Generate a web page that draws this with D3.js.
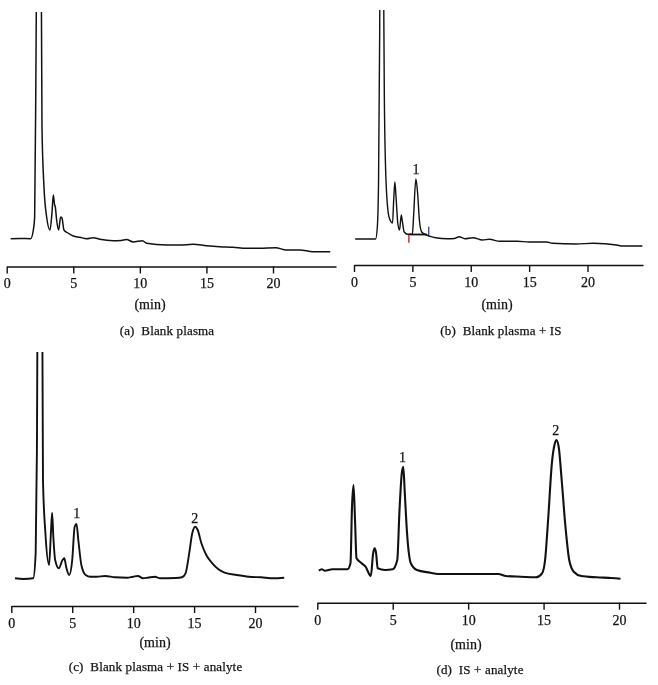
<!DOCTYPE html>
<html><head><meta charset="utf-8">
<script src="https://cdn.jsdelivr.net/npm/d3@7"></script>
<style>
body{margin:0;background:#fff}
svg{will-change:transform}
text{font-family:"Liberation Serif","DejaVu Serif",serif;fill:#111;stroke:#111;stroke-width:0.25px;opacity:0.99}
</style>
</head><body><svg id="chart" width="658" height="685"></svg>
<script>
// ---- data (time in min, detector signal in arbitrary units) ----
const tickValues = [0, 5, 10, 15, 20];
const axisTitle = "(min)";
const captions = ["(a)\u00a0 Blank plasma", "(b)\u00a0 Blank plasma + IS", "(c)\u00a0 Blank plasma + IS + analyte", "(d)\u00a0 IS + analyte"];

const traceA = [[0.3,21.3],[1.0,21.5],[1.8,21.3],[2.0,30],[2.1,43],[2.2,200],[2.3,400],[2.55,400],[2.65,133],[2.8,73],[3.0,43],[3.25,30],[3.4,47],[3.5,65],[3.6,55],[3.65,53],[3.75,40],[3.9,30],[4.05,43],[4.15,42],[4.3,30],[4.6,27],[5.0,24],[5.5,22.7],[6.0,21.3],[6.5,22.3],[7.0,20.7],[8.0,19.3],[8.6,19.6],[9.0,20.5],[9.5,18],[10.2,19.3],[10.5,16.7],[12.0,15],[13.0,15],[14.0,15.7],[15.0,14.3],[16.0,13.3],[17.0,12.7],[18.0,11.7],[19.0,11.7],[20.2,12.3],[21.0,10],[22.0,10],[23.0,8.3],[24.3,8.3]];

const traceB = [[0.1,21],[1.85,21],[2.0,33.3],[2.1,77],[2.2,227],[2.25,400],[2.45,400],[2.6,160],[2.75,77],[3.0,43],[3.3,37],[3.4,60],[3.5,78],[3.6,63],[3.75,37],[3.9,30],[4.05,45],[4.15,38],[4.3,28],[4.6,25.7],[5.0,25.7],[5.1,43],[5.3,81],[5.45,66.7],[5.6,40],[5.8,28],[6.2,25],[6.6,23.3],[7.0,22.3],[8.0,21.3],[8.6,21.5],[9.0,23.3],[9.5,21.3],[10.2,22.3],[11.0,20],[11.6,20.7],[12.5,18.7],[14.0,18.7],[15.0,18],[16.5,18],[17.0,16.7],[19.0,16],[20.5,16.7],[22.5,15],[23.0,14],[24.7,14]];

const traceC = [[0.3,21.7],[1.0,21],[1.8,21.7],[2.0,46.7],[2.1,146.7],[2.2,400],[2.5,400],[2.6,120],[2.8,66.7],[3.1,35],[3.25,66.7],[3.35,87.3],[3.45,63.3],[3.6,40],[3.9,31.7],[4.2,40],[4.35,41.7],[4.5,33.3],[4.75,25],[5.0,40],[5.2,73.3],[5.35,76],[5.5,60],[5.75,35],[6.1,25],[6.5,23.3],[7.0,23.3],[7.7,24],[8.5,22.7],[9.5,22.3],[10.0,23.3],[10.4,24],[10.8,21.7],[11.2,22.3],[11.8,23.3],[12.2,21.7],[13.5,22],[14.0,22.7],[14.3,26.7],[14.6,46.7],[14.85,66.7],[15.1,73.3],[15.3,70],[15.6,56.7],[16.0,45],[16.5,36.7],[17.0,30.7],[17.5,27.3],[18.5,25],[19.5,23.3],[20.5,22.7],[21.5,21.7],[22.4,22.3]];

const traceD = [[0.1,29.3],[0.3,30.7],[0.5,29.3],[1.0,30.7],[2.0,30.7],[2.2,36.7],[2.3,93.3],[2.4,115],[2.5,80],[2.6,41.7],[2.9,37.3],[3.2,33.3],[3.55,24],[3.7,46.7],[3.8,51.7],[3.9,46.7],[4.0,31.7],[4.5,30],[5.0,30.7],[5.3,40],[5.45,90],[5.6,126.7],[5.7,133.3],[5.8,106.7],[5.95,66.7],[6.2,36.7],[6.6,30],[7.5,27.3],[8.0,26],[10.0,26],[12.0,26],[12.5,24],[13.5,23.3],[14.5,22.7],[14.9,26.7],[15.1,40],[15.3,80],[15.55,136.7],[15.75,156.7],[15.85,160],[16.0,153.3],[16.2,120],[16.45,73.3],[16.7,40],[17.0,28.3],[17.5,24],[18.5,22.7],[19.5,22],[20.1,21.3]];

const peakLabelsB = [["1", 5.3, 91]];
const peakLabelsC = [["1", 5.38, 87.3], ["2", 15.05, 82.3]];
const peakLabelsD = [["1", 5.65, 143.3], ["2", 15.8, 170]];

// integration markers in panel (b): [time, v from, v to]
const markerRed = [4.7, 17.3, 25];
const markerBlue = [6.4, 25, 33.3];
const integrationBaseline = [[4.75, 25.5], [6.25, 25.5]];

// ---- layout ----
const panels = [
  {trace: traceA, labels: [], x0: 6.7, x20: 273, xEnd: 336, axisY: 266.5, yR: [260, 10], clipTop: 12, sw: 1.5,
   minX: 150, minY: 309, capX: 167, capY: 335, cap: captions[0]},
  {trace: traceB, labels: peakLabelsB, x0: 354, x20: 587.5, xEnd: 643, axisY: 265, yR: [260, 10], clipTop: 10, sw: 1.4,
   minX: 497, minY: 309, capX: 501, capY: 335, cap: captions[1]},
  {trace: traceC, labels: peakLabelsC, x0: 11.3, x20: 255, xEnd: 298, axisY: 606, yR: [600, 350], clipTop: 352, sw: 1.9,
   minX: 155, minY: 647, capX: 155.5, capY: 671, cap: captions[2]},
  {trace: traceD, labels: peakLabelsD, x0: 317.3, x20: 619, xEnd: 646, axisY: 602.7, yR: [600, 350], clipTop: 0, sw: 2.1,
   minX: 466, minY: 649, capX: 480, capY: 674, cap: captions[3]}
];

const svg = d3.select("#chart");
svg.append("rect").attr("width", 658).attr("height", 685).attr("fill", "#fff");

panels.forEach((p, i) => {
  const x = d3.scaleLinear().domain([0, 20]).range([p.x0, p.x20]);
  const y = d3.scaleLinear().domain([0, 250]).range(p.yR);
  const xAxisScale = x.copy().domain([0, x.invert(p.xEnd)]).range([p.x0, p.xEnd]);

  svg.append("clipPath").attr("id", "clip" + i)
    .append("rect").attr("x", 0).attr("y", p.clipTop).attr("width", 658).attr("height", p.axisY - p.clipTop);

  const line = d3.line().x(d => x(d[0])).y(d => y(d[1])).curve(d3.curveMonotoneX);
  svg.append("path").datum(p.trace)
    .attr("clip-path", `url(#clip${i})`)
    .attr("d", line).attr("fill", "none").attr("stroke", "#111")
    .attr("stroke-width", p.sw).attr("stroke-linejoin", "round");

  if (i === 1) {
    svg.append("path").datum(integrationBaseline)
      .attr("d", d3.line().x(d => x(d[0])).y(d => y(d[1])))
      .attr("stroke", "#111").attr("stroke-width", 1.8).attr("fill", "none");
    svg.append("line").attr("x1", x(markerRed[0])).attr("x2", x(markerRed[0]))
      .attr("y1", y(markerRed[1])).attr("y2", y(markerRed[2])).attr("stroke", "#e0242a").attr("stroke-width", 1.5);
    svg.append("line").attr("x1", x(markerBlue[0])).attr("x2", x(markerBlue[0]))
      .attr("y1", y(markerBlue[1])).attr("y2", y(markerBlue[2])).attr("stroke", "#2a3f9e").attr("stroke-width", 1.3);
  }

  p.labels.forEach(l => {
    svg.append("text").attr("x", x(l[1])).attr("y", y(l[2])).attr("dy", "0.35em")
      .attr("text-anchor", "middle").attr("font-size", 14).text(l[0]);
  });

  const axis = d3.axisBottom(xAxisScale).tickValues(tickValues).tickSize(7).tickSizeOuter(0).tickPadding(5);
  const g = svg.append("g").attr("transform", `translate(0,${p.axisY})`).call(axis);
  g.select(".domain").attr("stroke", "#111").attr("stroke-width", 1.4);
  g.selectAll(".tick line").attr("stroke", "#111").attr("stroke-width", 1.4);
  g.selectAll(".tick text").attr("font-size", 14).attr("font-family", "Liberation Serif, serif").attr("fill", "#111");

  svg.append("text").attr("x", p.minX).attr("y", p.minY).attr("text-anchor", "middle")
    .attr("font-size", 14).text(axisTitle);
  svg.append("text").attr("x", p.capX).attr("y", p.capY).attr("text-anchor", "middle")
    .attr("font-size", 13).attr("letter-spacing", 0.15).text(p.cap);
});
</script>
</body></html>
